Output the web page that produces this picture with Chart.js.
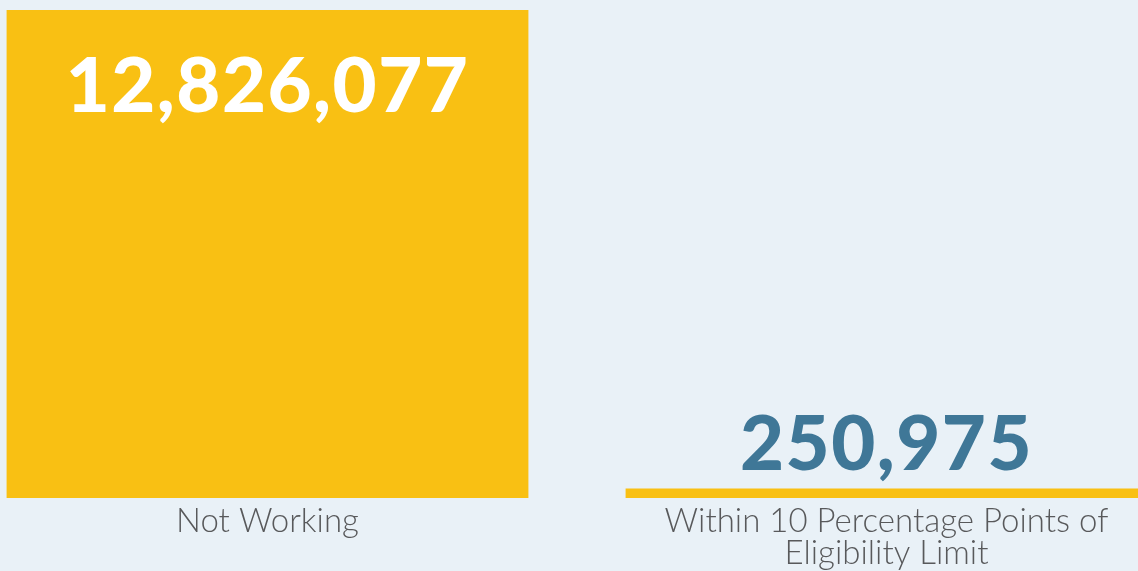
<!DOCTYPE html>
<html>
<head>
<meta charset="utf-8">
<script src="https://cdn.jsdelivr.net/npm/chart.js@4"></script>
<style>
  html, body { margin:0; padding:0; background:#E9F1F7; overflow:hidden; width:1138px; height:571px; }
  #wrap { position:absolute; left:-42px; top:0; width:1238px; height:571px; }
</style>
</head>
<body>
<div id="wrap"><canvas id="c"></canvas></div>
<script>
const categories = ["Not Working", ["Within 10 Percentage Points of", "Eligibility Limit"]];
const values = [12826077, 250975];
const valueColors = ["#FFFFFF", "#3F7797"];

const valueLabels = {
  id: 'valueLabels',
  afterDatasetsDraw(chart) {
    const ctx = chart.ctx;
    const meta = chart.getDatasetMeta(0);
    ctx.save();
    ctx.font = '900 76px Lato, "DejaVu Sans", sans-serif';
    ctx.textAlign = 'center';
    if ('letterSpacing' in ctx) ctx.letterSpacing = '1.5px';
    meta.data.forEach((bar, i) => {
      const txt = values[i].toLocaleString('en-US');
      ctx.fillStyle = valueColors[i];
      const h = bar.base - bar.y;
      ctx.textBaseline = 'alphabetic';
      if (h > 150) {
        ctx.fillText(txt, bar.x, bar.y + 102);
      } else {
        ctx.fillText(txt, bar.x, bar.y - 18);
      }
    });
    ctx.restore();
  }
};

new Chart(document.getElementById('c'), {
  type: 'bar',
  data: {
    labels: categories,
    datasets: [{
      data: values,
      backgroundColor: '#F9C013',
      borderWidth: 0,
      barPercentage: 0.843,
      categoryPercentage: 1
    }]
  },
  options: {
    responsive: true,
    maintainAspectRatio: false,
    animation: false,
    layout: { padding: { top: 10, left: 0, right: 0, bottom: 0 } },
    plugins: { legend: { display: false }, tooltip: { enabled: false } },
    scales: {
      y: { display: false, min: 0, max: 12826077 },
      x: {
        afterFit(s) { s.height = 73; },
        grid: { display: false, drawTicks: false },
        border: { display: false },
        ticks: {
          color: '#58595B',
          padding: 7,
          maxRotation: 0,
          autoSkip: false,
          font: { family: 'Lato, "DejaVu Sans", sans-serif', size: 33, weight: 300, lineHeight: 0.98 }
        }
      }
    }
  },
  plugins: [valueLabels]
});
</script>
</body>
</html>
